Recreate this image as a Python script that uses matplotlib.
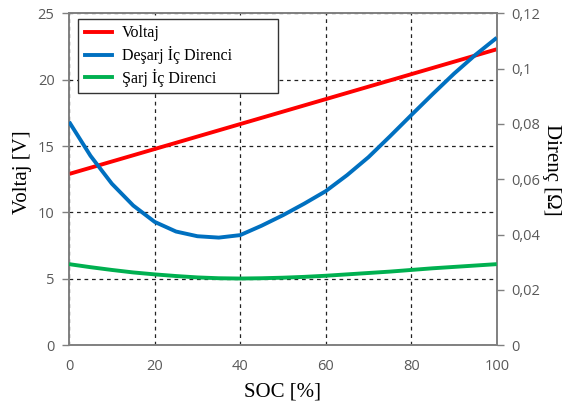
import matplotlib.pyplot as plt
from matplotlib.lines import Line2D

# SOC noktaları [%]
soc = [0, 5, 10, 15, 20, 25, 30, 35, 40, 45, 50, 55, 60, 65, 70, 75, 80, 85, 90, 95, 100]

# Voltaj [V]
voltaj = [12.90, 13.37, 13.84, 14.31, 14.78, 15.25, 15.72, 16.19, 16.66, 17.13, 17.60,
          18.07, 18.54, 19.01, 19.48, 19.95, 20.42, 20.89, 21.36, 21.83, 22.30]

# Deşarj iç direnci [Ω]
desarj_direnc = [0.0808, 0.0685, 0.0584, 0.0505, 0.0446, 0.0411, 0.0394, 0.0389, 0.0398,
                 0.0432, 0.0470, 0.0512, 0.0557, 0.0615, 0.0680, 0.0755, 0.0832, 0.0908,
                 0.0982, 0.1050, 0.1112]

# Şarj iç direnci [Ω]
sarj_direnc = [0.0293, 0.0282, 0.0272, 0.0263, 0.0256, 0.0250, 0.0245, 0.0242, 0.0241,
               0.0242, 0.0244, 0.0247, 0.0251, 0.0256, 0.0261, 0.0266, 0.0272, 0.0278,
               0.0283, 0.0288, 0.0293]

x_ticks = [0, 20, 40, 60, 80, 100]
v_ticks = [0, 5, 10, 15, 20, 25]
r_ticks = [0, 0.02, 0.04, 0.06, 0.08, 0.1, 0.12]
r_tick_labels = ['0', '0,02', '0,04', '0,06', '0,08', '0,1', '0,12']

KIRMIZI = '#FF0000'
MAVI = '#0070C0'
YESIL = '#00B050'
GRI = '#808080'
YAZI_GRI = '#595959'
SERIF = 'Liberation Serif'
SANS = 'Open Sans'
LW = 2.8

fig = plt.figure(figsize=(5.71, 4.07), dpi=100)
ax = fig.add_axes([0.121, 0.152, 0.749, 0.815])
ax2 = ax.twinx()

ax.plot(soc, voltaj, color=KIRMIZI, lw=LW, solid_capstyle='butt', zorder=3)
ax2.plot(soc, desarj_direnc, color=MAVI, lw=LW, solid_capstyle='butt', zorder=3)
ax2.plot(soc, sarj_direnc, color=YESIL, lw=LW, solid_capstyle='butt', zorder=3)

ax.set_xlim(0, 100)
ax.set_ylim(0, 25)
ax2.set_ylim(0, 0.12)

ax.set_xticks(x_ticks)
ax.set_yticks(v_ticks)
ax2.set_yticks(r_ticks)
ax2.set_yticklabels(r_tick_labels)

# Kesikli ızgara çizgileri
ax.grid(True, color='#222222', linestyle=(0, (3, 3)), linewidth=0.9)
ax.set_axisbelow(True)

for a in (ax, ax2):
    for s in a.spines.values():
        s.set_color(GRI)
        s.set_linewidth(1.2)

ax.tick_params(axis='x', length=0, pad=10, labelsize=10.5, labelcolor=YAZI_GRI)
ax.tick_params(axis='y', length=5, width=1, color=GRI, pad=5.5, labelsize=10.5, labelcolor=YAZI_GRI)
ax2.tick_params(axis='y', length=5, width=1, color=GRI, pad=5.5, labelsize=10.5, labelcolor=YAZI_GRI)
for lbl in ax.get_xticklabels() + ax.get_yticklabels() + ax2.get_yticklabels():
    lbl.set_family(SANS)

ax.set_xlabel('SOC [%]', fontsize=15, family=SERIF, labelpad=6)
ax.set_ylabel('Voltaj [V]', fontsize=15, family=SERIF, va='center')
ax.yaxis.set_label_coords(-0.11, 0.52)
ax2.set_ylabel('Direnç [Ω]', fontsize=15, family=SERIF, rotation=270, va='center', ha='center')
ax2.yaxis.set_label_coords(1.128, 0.53)

handles = [
    Line2D([], [], color=KIRMIZI, lw=LW),
    Line2D([], [], color=MAVI, lw=LW),
    Line2D([], [], color=YESIL, lw=LW),
]
leg = ax2.legend(handles, ['Voltaj', 'Deşarj İç Direnci', 'Şarj İç Direnci'],
                 loc='upper left', bbox_to_anchor=(0.022, 0.76, 0.4676, 0.223),
                 mode='expand', borderaxespad=0,
                 fancybox=False, framealpha=1, edgecolor='#333333',
                 prop={'family': SERIF, 'size': 11.5}, handlelength=1.7,
                 handletextpad=0.6, labelspacing=0.3, borderpad=0.4)
leg.get_frame().set_linewidth(1.0)

fig.savefig('out.png', dpi=100)
